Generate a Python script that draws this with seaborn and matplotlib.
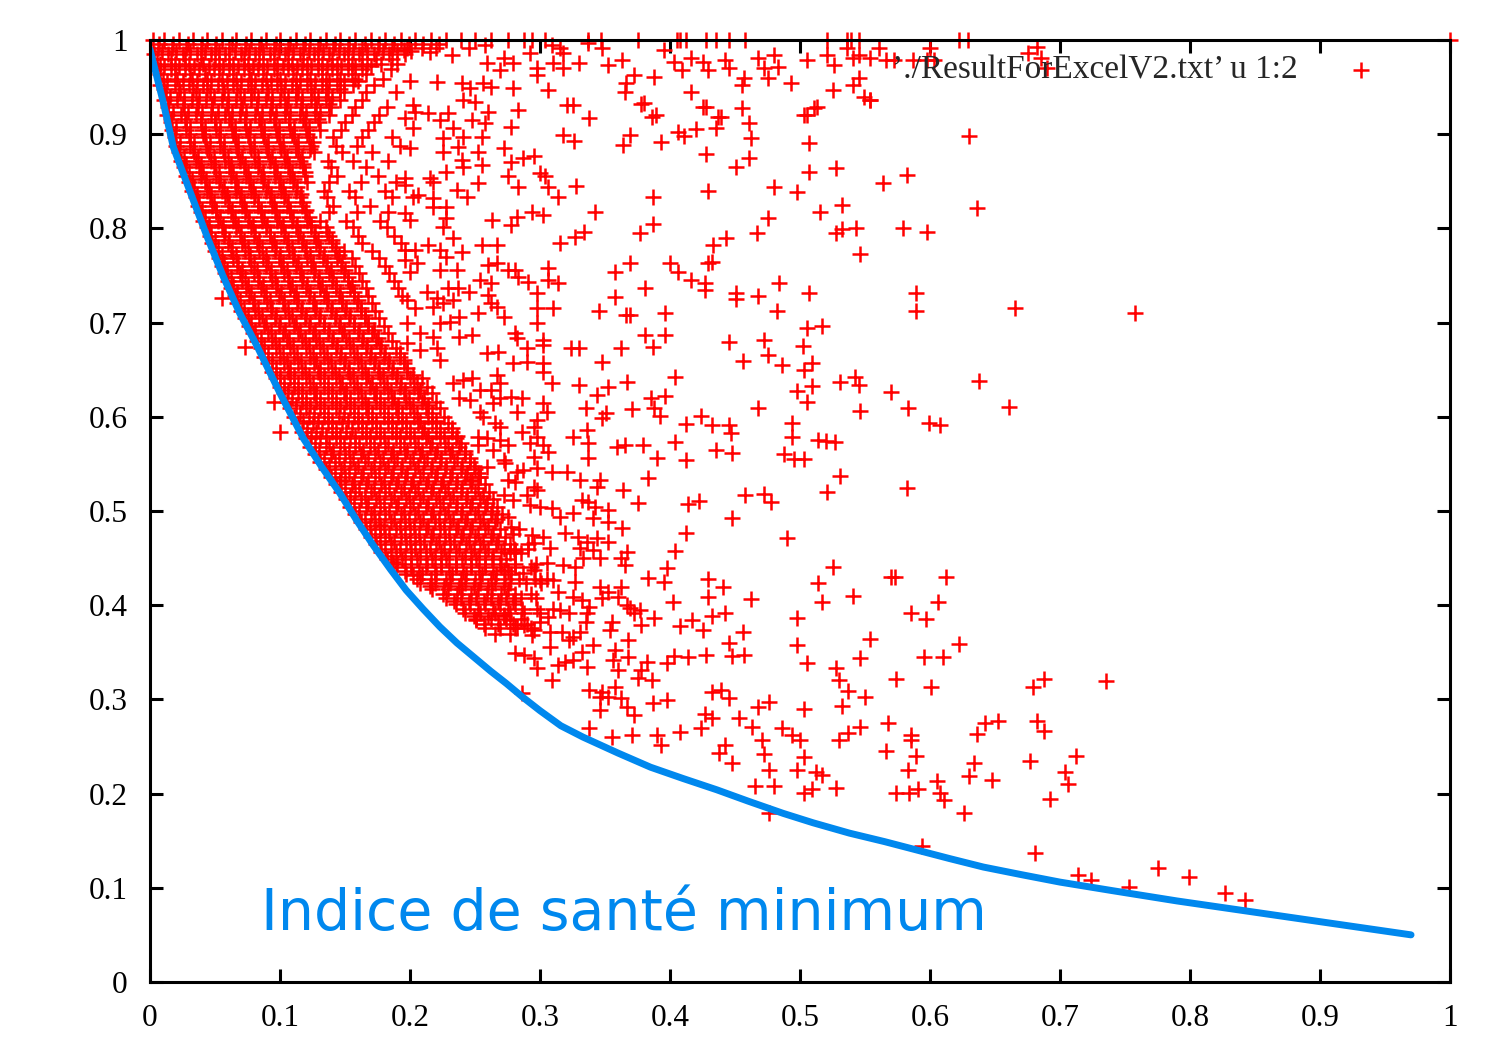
import pandas as pd
import matplotlib
matplotlib.use('Agg')
import matplotlib.pyplot as plt
import seaborn as sns

# courbe "indice de sante minimum"
curve_x = [0, 0.01, 0.018, 0.03, 0.044, 0.056, 0.069, 0.082, 0.1, 0.118, 0.132, 0.146, 0.159, 0.172,
           0.185, 0.197, 0.21, 0.223, 0.236, 0.249, 0.262, 0.274, 0.287, 0.3, 0.316, 0.333, 0.36, 0.385,
           0.41, 0.436, 0.46, 0.487, 0.51, 0.538, 0.565, 0.59, 0.615, 0.641, 0.67, 0.7, 0.74, 0.79,
           0.84, 0.89, 0.93, 0.97]
curve_y = [0.99, 0.935, 0.886, 0.842, 0.791, 0.75, 0.71, 0.676, 0.625, 0.577, 0.547, 0.519, 0.49, 0.463,
           0.438, 0.416, 0.396, 0.377, 0.36, 0.345, 0.33, 0.317, 0.302, 0.288, 0.272, 0.26, 0.243, 0.228,
           0.216, 0.204, 0.192, 0.179, 0.169, 0.158, 0.149, 0.14, 0.131, 0.122, 0.114, 0.106, 0.097, 0.086,
           0.076, 0.066, 0.058, 0.05]

# bande dense, premiere serie de lignes
row_y = [1.000, 0.991, 0.985, 0.975, 0.969, 0.959, 0.952, 0.945, 0.936, 0.929, 0.920, 0.913, 0.904,
         0.897, 0.888, 0.881, 0.872, 0.865, 0.856, 0.849, 0.840, 0.833, 0.824, 0.817, 0.808, 0.801,
         0.792, 0.785, 0.776, 0.769, 0.760, 0.753, 0.744, 0.737, 0.728, 0.721, 0.712, 0.705, 0.696,
         0.689, 0.680, 0.673, 0.664, 0.657, 0.648, 0.641, 0.632, 0.625, 0.616, 0.609, 0.600, 0.593,
         0.584, 0.577, 0.568, 0.561, 0.552, 0.545, 0.536, 0.529, 0.520, 0.513, 0.504, 0.497, 0.488,
         0.481, 0.472, 0.465, 0.456, 0.449, 0.440, 0.433, 0.424, 0.417, 0.408, 0.401, 0.392, 0.385,
         0.376, 0.369]
row_x = [
    [.002, .011, .022, .033, .044, .055, .066, .078, .089, .100, .112, .123, .135, .146, .158, .170,
     .181, .193, .204, .216, .228, .239, .250, .262, .275, .288, .294, .304, .337, .347, .375, .405,
     .408, .412, .428, .435, .445, .458, .521, .536, .539, .545, .629],
    [.006, .017, .028, .039, .050, .061, .073, .084, .095, .106, .118, .129, .141, .152, .163, .175, .186, .198, .209, .220],
    [.003, .014, .025, .036, .047, .058, .070, .081, .092, .104, .115, .126, .138, .149, .161, .172, .184, .196],
    [.008, .019, .030, .041, .053, .064, .075, .087, .098, .109, .121, .132, .144, .155, .167, .178, .190],
    [.005, .016, .027, .038, .049, .061, .072, .083, .095, .106, .117, .129, .140, .152, .163, .185],
    [.010, .021, .032, .044, .055, .066, .078, .089, .100, .112, .123, .135, .146, .158, .179],
    [.008, .019, .030, .041, .052, .064, .075, .086, .098, .109, .121, .132, .144, .156, .172],
    [.012, .023, .035, .046, .057, .069, .080, .091, .103, .114, .126, .137, .149, .166, .189],
    [.011, .021, .032, .043, .055, .066, .078, .089, .100, .112, .124, .135, .146, .163],
    [.014, .026, .037, .048, .060, .071, .082, .094, .105, .117, .128, .139, .158, .182],
    [.013, .024, .035, .047, .058, .069, .081, .092, .104, .115, .127, .138, .155, .176],
    [.016, .028, .039, .050, .062, .073, .085, .096, .107, .119, .130, .150, .172],
    [.017, .028, .040, .051, .063, .074, .085, .097, .108, .120, .131, .147, .168],
    [.019, .031, .042, .054, .065, .076, .088, .099, .111, .122, .141, .163, .186],
    [.020, .031, .043, .054, .066, .077, .089, .100, .112, .124, .143, .159, .192],
    [.022, .034, .045, .057, .068, .080, .091, .103, .114, .126, .148, .171],
    [.024, .035, .047, .058, .069, .081, .092, .104, .115, .137, .156, .183],
    [.026, .038, .049, .061, .072, .083, .095, .106, .118, .139, .166],
    [.028, .039, .051, .062, .074, .085, .096, .108, .119, .144, .175],
    [.030, .042, .053, .065, .076, .087, .099, .110, .121, .138, .162, .189],
    [.032, .044, .055, .066, .078, .089, .101, .112, .134, .153, .181],
    [.035, .046, .058, .069, .080, .092, .103, .115, .136, .158, .186],
    [.037, .048, .060, .071, .083, .094, .105, .117, .141, .169],
    [.039, .051, .062, .073, .085, .096, .108, .119, .138, .159, .183],
    [.041, .052, .064, .075, .086, .098, .109, .121, .131, .151, .177],
    [.044, .055, .066, .078, .089, .101, .112, .124, .135, .156, .182],
    [.046, .057, .069, .080, .092, .103, .114, .126, .138, .160, .188],
    [.048, .060, .071, .082, .094, .105, .117, .128, .140, .163, .193],
    [.050, .062, .073, .084, .096, .107, .119, .130, .142, .149, .171],
    [.053, .064, .076, .087, .099, .110, .121, .133, .144, .155, .176],
    [.055, .067, .078, .089, .101, .112, .124, .135, .147, .158, .181],
    [.058, .069, .080, .092, .103, .115, .126, .138, .149, .161, .184],
    [.060, .071, .083, .094, .106, .117, .129, .140, .152, .163, .188],
    [.062, .074, .085, .097, .108, .120, .131, .143, .154, .166, .191],
    [.065, .076, .088, .099, .111, .122, .134, .145, .157, .168, .194],
    [.067, .079, .090, .102, .113, .125, .136, .148, .159, .171],
    [.070, .081, .093, .104, .116, .127, .139, .150, .162, .173],
    [.073, .084, .096, .107, .119, .130, .142, .153, .165, .176],
    [.076, .088, .099, .111, .122, .134, .145, .157, .168, .180],
    [.079, .091, .102, .114, .125, .137, .148, .160, .171, .183],
    [.082, .094, .105, .117, .128, .140, .151, .163, .174, .186],
    [.085, .097, .108, .120, .131, .143, .154, .166, .177, .189],
    [.088, .100, .111, .123, .134, .146, .157, .169, .180, .192],
    [.091, .103, .114, .126, .137, .149, .160, .172, .183, .195],
    [.094, .106, .117, .129, .140, .152, .163, .175, .186, .198],
    [.097, .108, .120, .131, .143, .154, .166, .177, .189, .200, .209],
    [.100, .111, .123, .134, .146, .157, .169, .180, .192, .203, .213],
    [.103, .114, .126, .137, .149, .160, .172, .183, .195, .206, .217],
    [.105, .117, .128, .140, .151, .163, .174, .186, .197, .209, .220],
    [.108, .120, .131, .143, .154, .166, .177, .189, .200, .212, .223],
    [.111, .122, .134, .145, .157, .168, .180, .191, .203, .214, .226],
    [.114, .125, .137, .148, .160, .171, .183, .194, .206, .217, .229],
    [.117, .128, .140, .151, .163, .174, .186, .197, .209, .220, .232],
    [.120, .131, .143, .154, .166, .177, .189, .200, .212, .223, .235],
    [.123, .135, .146, .158, .169, .181, .192, .204, .215, .227, .238],
    [.127, .139, .150, .162, .173, .185, .196, .208, .219, .231, .242],
    [.131, .142, .154, .165, .177, .188, .200, .211, .223, .234, .246],
    [.135, .147, .158, .170, .181, .193, .204, .216, .227, .239, .250],
    [.139, .150, .162, .173, .185, .196, .208, .219, .231, .242, .254],
    [.143, .155, .166, .178, .189, .201, .212, .224, .235, .247, .258],
    [.147, .158, .170, .181, .193, .204, .216, .227, .239, .250, .261],
    [.151, .162, .174, .185, .197, .208, .220, .231, .243, .254, .264],
    [.154, .166, .177, .189, .200, .212, .223, .235, .246, .258, .267],
    [.158, .170, .181, .193, .204, .216, .227, .239, .250, .262, .271],
    [.162, .173, .185, .196, .208, .219, .231, .242, .254, .265],
    [.166, .177, .189, .200, .212, .223, .235, .246, .258, .269, .284],
    [.170, .181, .193, .204, .216, .227, .239, .250, .262, .273],
    [.174, .185, .197, .208, .220, .231, .243, .254, .266, .277, .291],
    [.178, .189, .201, .212, .224, .235, .247, .258, .270, .281],
    [.182, .194, .205, .217, .228, .240, .251, .263, .274],
    [.189, .201, .212, .224, .235, .247, .258, .270, .281, .293],
    [.197, .209, .220, .232, .243, .255, .266, .278],
    [.208, .219, .231, .242, .254, .265, .277, .289, .301],
    [.217, .229, .240, .252, .263, .275],
    [.228, .239, .251, .262, .274, .285, .297],
    [.235, .246, .258, .269, .281],
    [.242, .254, .265, .277, .288, .300],
    [.251, .262, .274, .285],
    [.258, .269, .281, .293],
    [.265, .277],
]

# bande dense, seconde serie (entre les lignes precedentes)
row2_y = [0.996, 0.988, 0.980, 0.972, 0.964, 0.956, 0.948, 0.940, 0.932, 0.924, 0.916, 0.908, 0.900,
          0.892, 0.884, 0.876, 0.868, 0.860, 0.852, 0.844, 0.836, 0.828, 0.820, 0.812, 0.804, 0.796,
          0.788, 0.780, 0.772, 0.764, 0.756, 0.748, 0.740, 0.732, 0.724, 0.716, 0.708, 0.700, 0.692,
          0.684, 0.676, 0.668, 0.660, 0.652, 0.644, 0.636, 0.628, 0.620, 0.612, 0.604, 0.596, 0.588,
          0.580, 0.572, 0.564, 0.556, 0.548, 0.540, 0.532, 0.524, 0.516, 0.508, 0.500, 0.492, 0.484,
          0.476, 0.468, 0.460, 0.452, 0.444, 0.436, 0.428, 0.420, 0.412, 0.404, 0.396, 0.388, 0.380]
row2_x = [
    [.007, .018, .029, .040, .051, .063, .074, .085, .097, .108, .119, .131, .142, .153, .165, .176, .188, .199, .210, .222],
    [.009, .020, .031, .042, .053, .065, .076, .087, .099, .110, .122, .133, .145, .156, .167, .179, .190, .201],
    [.005, .016, .027, .039, .050, .061, .072, .084, .095, .106, .118, .129, .140, .152, .163, .174, .186],
    [.011, .022, .034, .045, .056, .068, .079, .090, .102, .113, .124, .136, .147, .158, .170],
    [.008, .019, .031, .042, .053, .064, .076, .087, .098, .110, .121, .132, .144, .155, .166],
    [.013, .025, .036, .047, .059, .070, .081, .093, .104, .115, .127, .138, .149, .160],
    [.011, .022, .033, .044, .056, .067, .078, .090, .101, .112, .124, .135, .146],
    [.015, .026, .038, .049, .060, .072, .083, .094, .106, .117, .129, .140],
    [.014, .025, .036, .048, .059, .070, .082, .093, .104, .116, .127, .138],
    [.018, .029, .040, .052, .063, .074, .086, .097, .108, .120, .131],
    [.016, .027, .039, .050, .061, .073, .084, .095, .107, .118, .129],
    [.020, .031, .042, .054, .065, .077, .088, .099, .111, .122],
    [.019, .030, .041, .053, .064, .075, .087, .098, .109, .121],
    [.023, .034, .046, .057, .068, .080, .091, .102, .114, .125],
    [.022, .033, .044, .056, .067, .078, .090, .101, .112, .123],
    [.026, .037, .049, .060, .071, .083, .094, .105, .117],
    [.028, .039, .050, .062, .073, .084, .096, .107, .118],
    [.030, .041, .053, .064, .075, .087, .098, .109, .119],
    [.032, .043, .054, .066, .077, .088, .100, .111],
    [.034, .045, .057, .068, .079, .091, .102, .113],
    [.036, .047, .059, .070, .081, .093, .104, .116],
    [.038, .049, .061, .072, .083, .095, .106, .118],
    [.040, .051, .063, .074, .085, .097, .108, .120],
    [.042, .054, .065, .076, .088, .099, .110, .122],
    [.045, .056, .068, .079, .090, .102, .113, .124],
    [.047, .058, .070, .081, .092, .104, .115, .127, .136],
    [.050, .061, .072, .084, .095, .106, .118, .129, .140],
    [.052, .063, .075, .086, .097, .109, .120, .131, .143],
    [.055, .066, .077, .089, .100, .111, .123, .134, .145],
    [.057, .068, .080, .091, .102, .114, .125, .136, .148],
    [.059, .071, .082, .093, .105, .116, .127, .139, .150],
    [.062, .073, .084, .096, .107, .118, .130, .141, .152],
    [.064, .075, .087, .098, .109, .121, .132, .143, .155],
    [.067, .078, .089, .101, .112, .123, .135, .146, .157],
    [.069, .080, .092, .103, .114, .126, .137, .148, .160],
    [.072, .083, .094, .106, .117, .128, .140, .151, .162],
    [.075, .086, .097, .109, .120, .131, .143, .154, .165],
    [.078, .089, .100, .112, .123, .134, .146, .157, .168],
    [.081, .093, .104, .115, .127, .138, .149, .161, .172],
    [.085, .096, .107, .119, .130, .141, .153, .164, .175],
    [.088, .099, .110, .122, .133, .144, .156, .167, .178],
    [.091, .102, .113, .125, .136, .147, .159, .170, .181, .192],
    [.094, .105, .116, .128, .139, .150, .162, .173, .184, .195],
    [.097, .108, .119, .131, .142, .153, .165, .176, .187, .198],
    [.100, .111, .122, .134, .145, .156, .168, .179, .190, .202],
    [.103, .114, .125, .137, .148, .159, .171, .182, .193, .205],
    [.106, .117, .128, .140, .151, .162, .174, .185, .196, .208],
    [.109, .120, .131, .143, .154, .165, .177, .188, .199, .211],
    [.112, .123, .134, .146, .157, .168, .180, .191, .202, .214],
    [.115, .126, .137, .149, .160, .171, .183, .194, .205, .217],
    [.118, .129, .140, .152, .163, .174, .186, .197, .208, .220],
    [.121, .132, .143, .155, .166, .177, .189, .200, .211, .223, .232],
    [.124, .135, .146, .158, .169, .180, .192, .203, .214, .226, .236],
    [.127, .138, .149, .161, .172, .183, .195, .206, .217, .229, .239],
    [.130, .141, .153, .164, .175, .187, .198, .209, .221, .232, .242],
    [.134, .145, .156, .168, .179, .190, .202, .213, .224, .236, .246],
    [.138, .149, .160, .172, .183, .194, .206, .217, .228, .240, .249],
    [.142, .153, .164, .176, .187, .198, .210, .221, .232, .244, .252],
    [.146, .157, .168, .180, .191, .202, .214, .225, .236, .248],
    [.150, .161, .172, .184, .195, .206, .218, .229, .240, .252],
    [.154, .165, .176, .188, .199, .210, .222, .233, .244, .256],
    [.157, .168, .180, .191, .202, .214, .225, .236, .248, .259],
    [.161, .172, .184, .195, .206, .218, .229, .240, .252, .263],
    [.165, .176, .188, .199, .210, .222, .233, .244, .256, .267],
    [.169, .180, .192, .203, .214, .226, .237, .248, .260],
    [.173, .184, .196, .207, .218, .230, .241, .252, .264, .279],
    [.177, .188, .200, .211, .222, .234, .245, .256, .268],
    [.181, .192, .204, .215, .226, .238, .249, .260, .272, .280, .291],
    [.185, .196, .208, .219, .230, .242, .253, .264],
    [.190, .201, .213, .224, .235, .247, .258, .269, .281, .297],
    [.196, .207, .219, .230, .241, .253, .264, .275],
    [.205, .216, .228, .239, .250, .262, .273, .284, .296, .305],
    [.215, .226, .238, .249, .260, .272],
    [.225, .236, .247, .259, .270, .281, .293],
    [.234, .245, .257, .268, .279],
    [.241, .252, .264, .275, .286, .298, .310],
    [.249, .260, .272],
    [.257, .268, .279, .290],
]

# haut du nuage, a droite
top_pts = [(.195, .989), (.215, .987), (.232, .984), (.245, .992), (.258, .995), (.309, .995), (.315, .992),
           (.337, .997), (.348, .992), (.363, .979), (.352, .973), (.330, .976), (.372, .963), (.366, .954),
           (.365, .945), (.388, .961), (.395, .989), (.403, .977), (.409, .968), (.416, .981), (.416, .945),
           (.425, .977), (.429, .968), (.442, .979), (.445, .970), (.457, .960), (.455, .952), (.468, .981),
           (.472, .970), (.480, .984), (.483, .971), (.475, .960), (.493, .954), (.505, .979), (.521, .984),
           (.526, .973), (.536, .992), (.541, .981), (.545, .984), (.554, .981), (.561, .992), (.572, .979),
           (.587, .979), (.600, .992), (.603, .979), (.545, .960), (.541, .952), (.525, .947), (.549, .940),
           (.554, .936), (.513, .929), (.505, .920), (.439, .918), (.428, .929), (.380, .933), (.675, .986),
           (.682, .993), (.685, .981), (.690, .970), (.566, .979), (.598, .979), (.622, 1.0), (1.0, 1.0)]

# zone intermediaire haute (x 0.2 - 0.32)
upper_mid = [(.200, .957), (.221, .955), (.240, .954), (.246, .949), (.256, .954), (.262, .950), (.269, .968),
             (.279, .976), (.279, .949), (.298, .970), (.298, .963), (.306, .947), (.310, .976), (.318, .970),
             (.318, .986), (.292, .986), (.272, .981), (.259, .976), (.202, .931), (.204, .924), (.214, .923),
             (.229, .923), (.241, .936), (.250, .934), (.260, .924), (.248, .915), (.258, .912), (.283, .926),
             (.278, .908), (.202, .907), (.196, .917), (.223, .915), (.233, .907), (.225, .896), (.241, .897),
             (.255, .897), (.200, .885), (.225, .881), (.237, .886), (.252, .881), (.272, .885), (.318, .899),
             (.321, .931), (.240, .873), (.241, .865), (.228, .860), (.255, .867), (.278, .870), (.287, .875),
             (.295, .877), (.275, .856), (.300, .859), (.304, .856), (.215, .854), (.218, .849), (.196, .854),
             (.196, .846), (.252, .848), (.236, .841), (.244, .833), (.283, .844), (.306, .844), (.314, .833),
             (.202, .833), (.206, .835), (.218, .832), (.218, .823), (.228, .823), (.196, .816), (.200, .809),
             (.228, .811), (.225, .801), (.233, .790), (.263, .809), (.282, .812), (.278, .804), (.294, .817),
             (.302, .814), (.315, .785), (.255, .782), (.267, .782), (.196, .777), (.204, .777), (.214, .782),
             (.223, .777), (.228, .770), (.240, .775), (.196, .766), (.205, .763), (.200, .754), (.223, .756),
             (.236, .756), (.260, .761), (.267, .763), (.275, .756), (.281, .756), (.283, .748), (.291, .743),
             (.306, .758), (.306, .745), (.314, .742), (.254, .745), (.262, .742), (.213, .732), (.221, .726),
             (.229, .737), (.237, .737), (.245, .732), (.260, .729), (.262, .721), (.267, .717), (.298, .731),
             (.218, .717), (.225, .721), (.233, .724), (.198, .724), (.204, .716), (.252, .710), (.238, .706),
             (.223, .700), (.231, .701), (.272, .706), (.298, .716), (.310, .716), (.298, .700), (.198, .700),
             (.208, .689), (.218, .685), (.238, .685), (.248, .687), (.281, .689), (.282, .684), (.302, .682),
             (.302, .676), (.290, .673), (.259, .668), (.268, .669), (.198, .678), (.208, .671), (.221, .673),
             (.223, .660), (.279, .657), (.290, .658), (.302, .657), (.302, .648), (.309, .636), (.267, .644),
             (.269, .636), (.241, .639), (.248, .641), (.233, .636), (.254, .628), (.262, .628), (.269, .620),
             (.278, .621), (.286, .620), (.282, .605), (.302, .615), (.305, .605), (.264, .615), (.254, .605),
             (.246, .618), (.238, .620), (.298, .597), (.295, .589), (.286, .584), (.298, .579), (.269, .575),
             (.259, .578), (.252, .579), (.269, .589), (.265, .593), (.256, .600), (.252, .570), (.264, .565),
             (.272, .554), (.259, .547), (.254, .536), (.246, .533)]

# zone intermediaire basse (x 0.27 - 0.40)
lower_mid = [(.275, .570), (.292, .572), (.302, .570), (.337, .572), (.359, .568), (.365, .570), (.379, .570),
             (.306, .563), (.295, .557), (.337, .556), (.390, .556), (.273, .551), (.282, .541), (.287, .544),
             (.298, .546), (.309, .541), (.321, .541), (.331, .533), (.346, .533), (.344, .525), (.364, .522),
             (.383, .535), (.275, .533), (.281, .531), (.295, .525), (.272, .517), (.279, .512), (.290, .517),
             (.298, .522), (.292, .506), (.300, .504), (.309, .503), (.315, .494), (.325, .498), (.332, .512),
             (.337, .510), (.342, .504), (.352, .501), (.375, .508), (.341, .493), (.352, .488), (.363, .482),
             (.275, .494), (.278, .483), (.294, .475), (.302, .472), (.319, .477), (.329, .472), (.336, .467),
             (.344, .471), (.352, .467), (.331, .461), (.341, .459), (.308, .461), (.295, .466), (.285, .455),
             (.277, .455), (.272, .437), (.281, .459), (.367, .456), (.362, .450), (.365, .443), (.346, .450),
             (.333, .450), (.327, .441), (.318, .443), (.305, .445), (.295, .437), (.287, .434), (.300, .427),
             (.310, .427), (.327, .425), (.314, .414), (.325, .409), (.332, .406), (.346, .419), (.352, .414),
             (.362, .419), (.360, .409), (.367, .400), (.383, .429), (.395, .425), (.398, .439), (.348, .408),
             (.369, .397), (.377, .395), (.372, .392), (.388, .386), (.378, .379), (.355, .382), (.354, .374),
             (.368, .363), (.338, .398), (.336, .392), (.335, .382), (.322, .392), (.315, .395), (.306, .387),
             (.300, .382), (.295, .374), (.288, .379), (.282, .376), (.277, .384), (.272, .390), (.294, .368),
             (.308, .372), (.317, .372), (.325, .366), (.322, .363), (.331, .372), (.341, .358), (.332, .350),
             (.325, .342), (.336, .334), (.319, .340), (.314, .337), (.308, .356), (.298, .333), (.295, .344),
             (.281, .349), (.288, .347), (.309, .321), (.286, .307), (.338, .310), (.346, .303), (.348, .308),
             (.352, .303), (.362, .301), (.358, .313), (.346, .289), (.367, .292), (.372, .283), (.356, .342),
             (.360, .331), (.358, .352), (.368, .345), (.375, .323), (.382, .340), (.386, .321), (.378, .331),
             (.398, .339), (.387, .296), (.398, .299), (.338, .270), (.355, .260), (.371, .262), (.390, .262),
             (.393, .252), (.408, .265), (.424, .270), (.427, .285), (.432, .280)]

# points epars a droite
sparse_pts = [(.325, .931), (.378, .932), (.425, .929), (.455, .928), (.511, .928), (.503, .920), (.554, .936),
              (.338, .917), (.386, .918), (.389, .920), (.437, .918), (.461, .912), (.326, .893), (.369, .899),
              (.364, .889), (.393, .892), (.406, .902), (.411, .898), (.420, .906), (.435, .907), (.462, .896),
              (.507, .891), (.630, .898), (.428, .879), (.461, .875), (.451, .865), (.507, .860), (.528, .864),
              (.564, .848), (.582, .857), (.328, .845), (.387, .833), (.429, .840), (.480, .844), (.498, .839),
              (.342, .817), (.475, .811), (.515, .817), (.532, .825), (.636, .822), (.387, .805), (.334, .796),
              (.327, .791), (.377, .795), (.433, .782), (.443, .790), (.467, .795), (.528, .795), (.532, .799),
              (.543, .800), (.579, .800), (.598, .796), (.546, .773), (.369, .763), (.358, .754), (.400, .763),
              (.406, .754), (.429, .763), (.432, .764), (.381, .737), (.416, .745), (.427, .742), (.427, .735),
              (.484, .742), (.451, .731), (.451, .725), (.468, .728), (.507, .731), (.589, .731), (.358, .727),
              (.345, .712), (.366, .708), (.369, .708), (.396, .710), (.482, .712), (.589, .712), (.665, .716),
              (.758, .710), (.381, .687), (.396, .687), (.505, .694), (.517, .696), (.324, .673), (.330, .673),
              (.362, .673), (.387, .674), (.445, .679), (.472, .682), (.502, .675), (.348, .658), (.456, .659),
              (.475, .666), (.486, .655), (.503, .650), (.509, .657), (.330, .634), (.352, .632), (.367, .637),
              (.404, .642), (.344, .623), (.385, .620), (.396, .622), (.498, .627), (.509, .633), (.531, .637),
              (.542, .642), (.545, .634), (.570, .626), (.638, .638), (.335, .609), (.351, .604), (.371, .608),
              (.388, .609), (.392, .601), (.468, .609), (.505, .616), (.546, .606), (.583, .609), (.661, .610),
              (.348, .599), (.424, .601), (.412, .592), (.432, .591), (.445, .591), (.447, .583), (.494, .593),
              (.494, .579), (.599, .593), (.608, .591), (.336, .586), (.325, .579), (.404, .573), (.514, .575),
              (.520, .574), (.527, .573), (.435, .565), (.448, .562), (.412, .554), (.488, .561), (.495, .555),
              (.503, .555), (.531, .537), (.458, .517), (.472, .518), (.521, .520), (.582, .524),
              (.414, .507), (.422, .511), (.478, .510), (.448, .493), (.412, .477), (.490, .471), (.404, .458),
              (.525, .441), (.429, .428), (.441, .419), (.514, .424), (.570, .430), (.573, .430), (.612, .430),
              (.402, .403), (.429, .409), (.462, .407), (.517, .403), (.541, .410), (.606, .403), (.442, .392),
              (.432, .389), (.417, .384), (.498, .386), (.585, .392), (.597, .385), (.408, .378), (.425, .374),
              (.456, .372), (.554, .364), (.445, .360), (.498, .358), (.622, .359), (.403, .346), (.414, .345),
              (.428, .347), (.448, .346), (.457, .347), (.505, .339), (.546, .344), (.595, .345), (.610, .345),
              (.528, .333), (.574, .322), (.601, .313), (.530, .321), (.537, .309), (.550, .303), (.679, .313),
              (.688, .322), (.735, .320), (.468, .292), (.476, .297), (.503, .290), (.532, .293), (.445, .301),
              (.432, .308), (.439, .310), (.463, .271), (.453, .280), (.486, .270), (.494, .262), (.500, .257),
              (.530, .257), (.537, .264), (.546, .271), (.568, .275), (.585, .262), (.585, .257), (.636, .263),
              (.642, .275), (.652, .277), (.682, .277), (.688, .266), (.471, .257), (.442, .252), (.438, .243),
              (.472, .242), (.503, .239), (.566, .245), (.589, .240), (.712, .240), (.448, .232), (.476, .225),
              (.498, .225), (.512, .223), (.517, .220), (.583, .225), (.634, .232), (.677, .235), (.704, .223),
              (.630, .219), (.648, .214), (.605, .213), (.706, .210), (.465, .208), (.480, .208), (.503, .201),
              (.509, .205), (.528, .206), (.574, .201), (.584, .201), (.591, .205), (.608, .201), (.611, .193),
              (.692, .194), (.626, .179), (.476, .179), (.594, .144), (.681, .137)]

# queue le long de la courbe et points sous la courbe
tail_pts = [(.714, .114), (.724, .108), (.753, .101), (.775, .121), (.799, .111), (.827, .094), (.842, .087)]
stray_pts = [(.055, .726), (.073, .674), (.095, .616), (.100, .584), (.146, .533), (.177, .485),
             (.187, .446), (.202, .432), (.251, .384)]

tick_vals = [0, 0.1, 0.2, 0.3, 0.4, 0.5, 0.6, 0.7, 0.8, 0.9, 1]
tick_labels = ['0', '0.1', '0.2', '0.3', '0.4', '0.5', '0.6', '0.7', '0.8', '0.9', '1']
legend_label = '\u2019./ResultForExcelV2.txt\u2019 u 1:2'
note = 'Indice de santé minimum'

xs, ys = [], []
for ylist, xlist in ((row_y, row_x), (row2_y, row2_x)):
    for y, row in zip(ylist, xlist):
        xs += row
        ys += [y] * len(row)
for grp in (top_pts, upper_mid, lower_mid, sparse_pts, tail_pts, stray_pts):
    xs += [p[0] for p in grp]
    ys += [p[1] for p in grp]
df = pd.DataFrame({'x': xs, 'y': ys})
df_curve = pd.DataFrame({'x': curve_x, 'y': curve_y})

sns.set_style('ticks')
plt.rcParams['font.family'] = ['Liberation Serif', 'DejaVu Serif']

blue = '#0088ee'
fig, ax = plt.subplots(figsize=(15, 10.5), dpi=100)
fig.subplots_adjust(left=0.1, right=0.9667, bottom=0.0648, top=0.9619)

sns.scatterplot(data=df, x='x', y='y', marker='+', color='red', s=135, linewidth=1.8,
                label=legend_label, clip_on=False, zorder=2, ax=ax)
sns.lineplot(data=df_curve, x='x', y='y', color=blue, linewidth=5, sort=False,
             estimator=None, zorder=3, ax=ax)

ax.text(0.085, 0.055, note, color=blue, fontsize=41, family='DejaVu Sans', va='baseline', zorder=4)

ax.set_xlim(0, 1)
ax.set_ylim(0, 1)
ax.set_xticks(tick_vals)
ax.set_xticklabels(tick_labels)
ax.set_yticks(tick_vals)
ax.set_yticklabels(tick_labels)
ax.set_xlabel('')
ax.set_ylabel('')
ax.tick_params(direction='in', length=9.5, width=2.2, top=True, right=True, labelsize=22.5, pad=16,
               colors='black')
for sp in ax.spines.values():
    sp.set_linewidth(2.2)
    sp.set_color('black')
    sp.set_zorder(5)

ax.legend(loc='center right', bbox_to_anchor=(0.980, 0.968), frameon=False, markerfirst=False,
          handletextpad=0.88, fontsize=24)

fig.savefig('out.png', dpi=100)
